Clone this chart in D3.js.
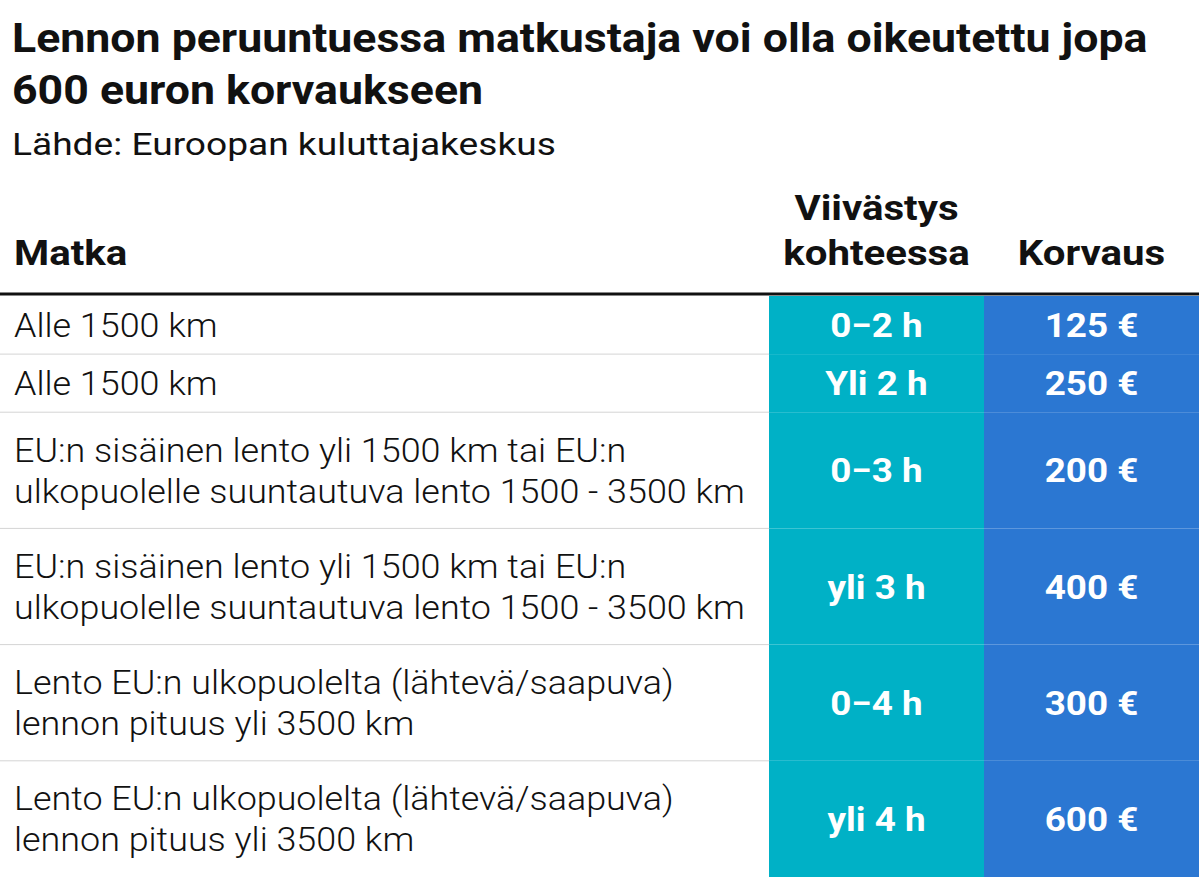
<!DOCTYPE html>
<html lang="fi">
<head>
<meta charset="UTF-8">
<script src="https://d3js.org/d3.v7.min.js"></script>
<style>
  body { margin: 0; background: #fff; font-family: Roboto, sans-serif; }
</style>
</head>
<body>
<svg width="1199" height="878"></svg>
<script>
const titleLines = ["Lennon peruuntuessa matkustaja voi olla oikeutettu jopa", "600 euron korvaukseen"];
const subtitle = "Lähde: Euroopan kuluttajakeskus";
const headers = ["Matka", ["Viivästys", "kohteessa"], "Korvaus"];

const matka = [
  ["Alle 1500 km"],
  ["Alle 1500 km"],
  ["EU:n sisäinen lento yli 1500 km tai EU:n", "ulkopuolelle suuntautuva lento 1500 - 3500 km"],
  ["EU:n sisäinen lento yli 1500 km tai EU:n", "ulkopuolelle suuntautuva lento 1500 - 3500 km"],
  ["Lento EU:n ulkopuolelta (lähtevä/saapuva)", "lennon pituus yli 3500 km"],
  ["Lento EU:n ulkopuolelta (lähtevä/saapuva)", "lennon pituus yli 3500 km"]
];
const viive = ["0−2 h", "Yli 2 h", "0−3 h", "yli 3 h", "0−4 h", "yli 4 h"];
const korvaus = ["125 €", "250 €", "200 €", "400 €", "300 €", "600 €"];

const svg = d3.select("svg");

// cumulative line units per row
const starts = [];
let acc = 0;
matka.forEach(m => { starts.push(acc); acc += m.length; });
const y = d3.scaleLinear().domain([0, acc]).range([296, 877]);
const col = { c1: 769, c2: 984, end: 1199 };

// fit condensed text: measure, then squeeze horizontally
function addText(g, str, x, yy, opts) {
  const t = g.append("text")
    .attr("font-size", opts.size)
    .attr("font-weight", opts.weight)
    .attr("fill", opts.fill || "#111")
    .attr("text-anchor", opts.anchor || "start")
    .text(str);
  t.attr("transform", `translate(${x},${yy}) scale(${opts.sx},1)`);
  return t;
}
function fitScale(str, size, weight, target) {
  const t = svg.append("text").attr("font-size", size).attr("font-weight", weight).text(str);
  const w = t.node().getComputedTextLength();
  t.remove();
  return target / w;
}

const sxTitle = fitScale(titleLines[0], 40, 700, 1136);
const sxBody = fitScale(matka[2][1], 33, 300, 731);
const sxSub = fitScale(subtitle, 32, 400, 544);
const sxHead = sxTitle;

titleLines.forEach((l, i) => addText(svg, l, 12, 52 + i * 52, { size: 40, weight: 700, sx: sxTitle }));
addText(svg, subtitle, 12, 155, { size: 32, weight: 400, sx: sxSub });

// header
addText(svg, headers[0], 14, 265, { size: 36, weight: 700, sx: sxHead });
headers[1].forEach((l, i) => addText(svg, l, (col.c1 + col.c2) / 2, 220 + i * 45, { size: 36, weight: 700, sx: sxHead, anchor: "middle" }));
addText(svg, headers[2], (col.c2 + col.end) / 2, 265, { size: 36, weight: 700, sx: sxHead, anchor: "middle" });

// rows
const rows = svg.append("g");
matka.forEach((m, i) => {
  const y0 = y(starts[i]), y1 = y(starts[i] + m.length), mid = (y0 + y1) / 2;
  rows.append("rect").attr("x", col.c1).attr("y", y0).attr("width", col.c2 - col.c1).attr("height", y1 - y0).attr("fill", "#00b1c6");
  rows.append("rect").attr("x", col.c2).attr("y", y0).attr("width", col.end - col.c2).attr("height", y1 - y0).attr("fill", "#2b77d2");
  if (i < matka.length - 1)
    rows.append("line").attr("x1", 0).attr("x2", col.c1).attr("y1", y1).attr("y2", y1).attr("stroke", "#d4d4d4").attr("stroke-width", 1);
  const lh = 41;
  m.forEach((l, j) => {
    const yy = mid - (m.length - 1) * lh / 2 + j * lh + 12;
    addText(rows, l, 14, yy, { size: 33, weight: 300, sx: sxBody });
  });
  addText(rows, viive[i], (col.c1 + col.c2) / 2, mid + 12, { size: 33, weight: 700, sx: sxHead, fill: "#fff", anchor: "middle" });
  addText(rows, korvaus[i], (col.c2 + col.end) / 2, mid + 12, { size: 33, weight: 700, sx: sxHead, fill: "#fff", anchor: "middle" });
});

svg.append("line").attr("x1", 0).attr("x2", 1199).attr("y1", 294).attr("y2", 294).attr("stroke", "#111").attr("stroke-width", 3);
</script>
</body>
</html>
